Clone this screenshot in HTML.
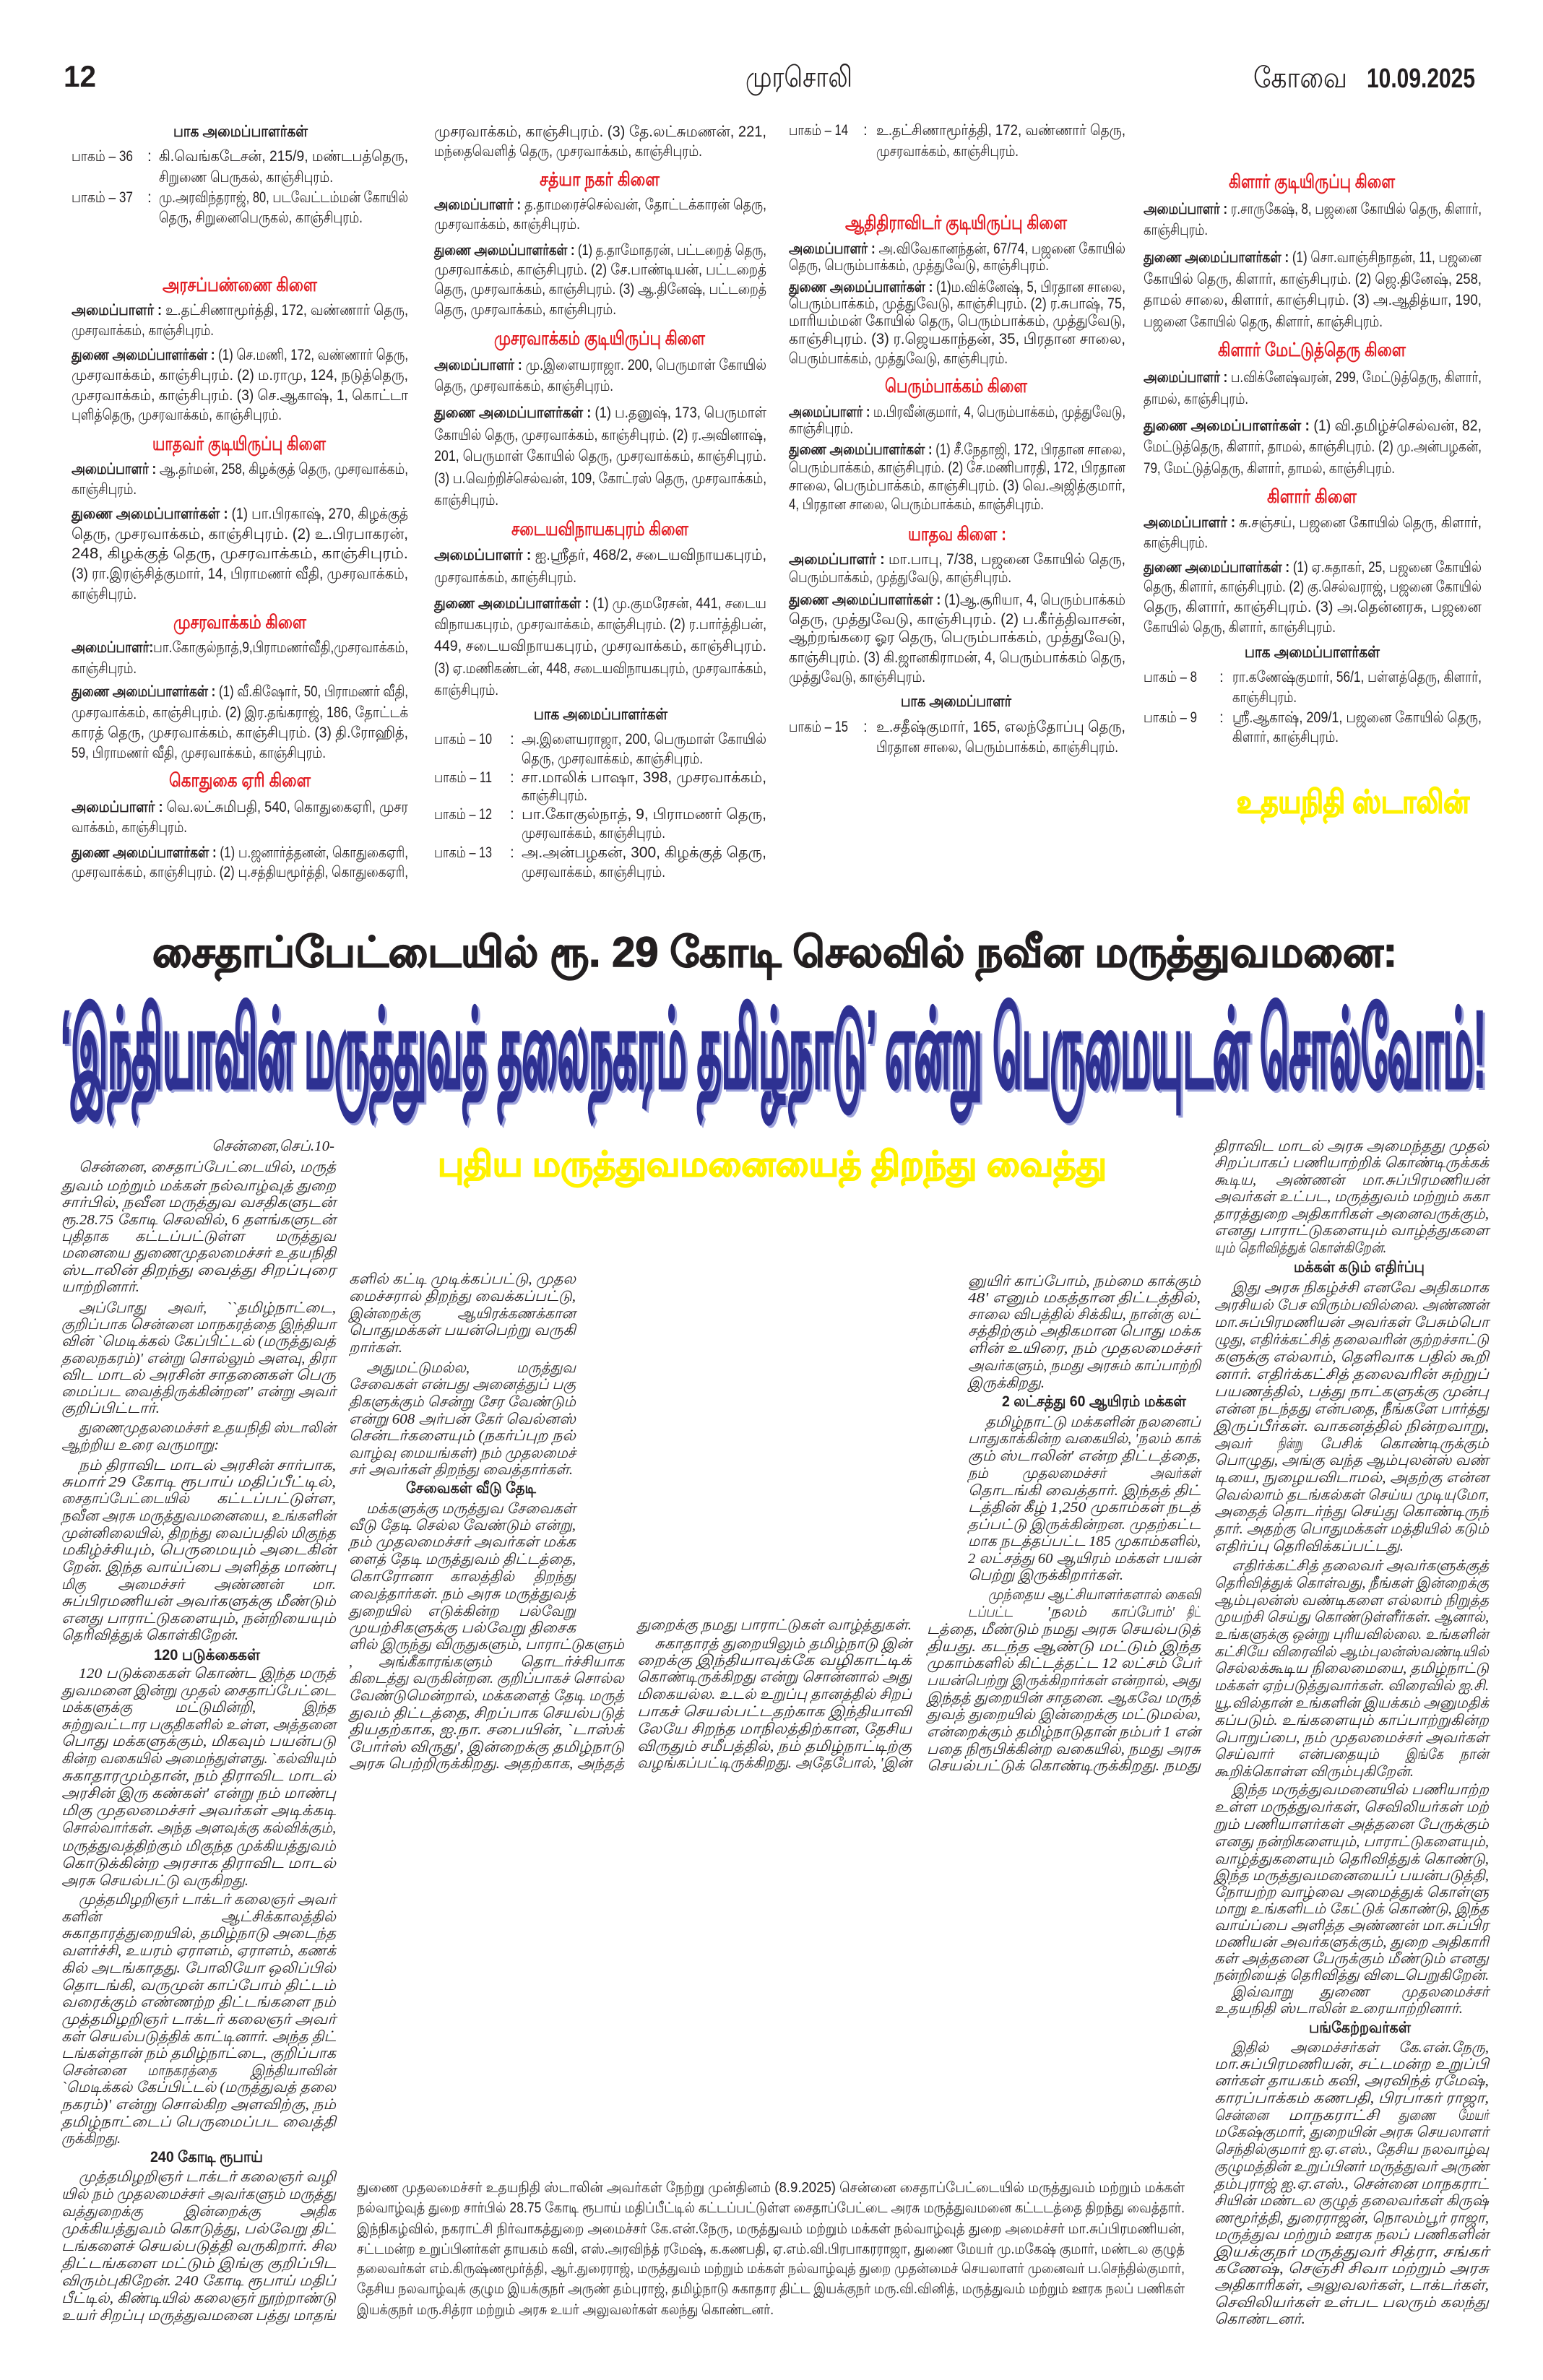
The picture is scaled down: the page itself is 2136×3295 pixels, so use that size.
<!DOCTYPE html>
<html><head><meta charset="utf-8"><style>
html,body{margin:0;padding:0;background:#fff}
svg{display:block}
.t{font:21px "Liberation Sans","DejaVu Sans",sans-serif;fill:#231f20}
.b{font:italic 20px "Liberation Serif","DejaVu Serif",serif;fill:#231f20}
.c{font:20px "Liberation Sans","DejaVu Sans",sans-serif;fill:#231f20}
.r{font:bold 26px "Liberation Sans","DejaVu Sans",sans-serif;fill:#e31e24}
.k{font:bold 22px "Liberation Sans","DejaVu Sans",sans-serif;fill:#231f20}
.bh{font:bold 21px "Liberation Sans","DejaVu Sans",sans-serif;fill:#231f20}
.bo{font-weight:bold}
</style></head><body>
<svg xmlns="http://www.w3.org/2000/svg" width="2136" height="3295" viewBox="0 0 2136 3295">
<rect width="2136" height="3295" fill="#fff"/>
<!-- HEADER -->
<text x="88" y="120" textLength="45" lengthAdjust="spacingAndGlyphs" style="font:bold 42px 'Liberation Sans',sans-serif;fill:#231f20">12</text>
<text x="1032" y="120" textLength="148" lengthAdjust="spacingAndGlyphs" style="font:40px 'Liberation Sans',sans-serif;fill:#231f20">முரசொலி</text>
<text x="1735" y="121" textLength="130" lengthAdjust="spacingAndGlyphs" style="font:40px 'Liberation Sans',sans-serif;fill:#231f20">கோவை</text>
<text x="1892" y="121" textLength="150" lengthAdjust="spacingAndGlyphs" style="font:bold 38px 'Liberation Sans',sans-serif;fill:#231f20">10.09.2025</text>

<!-- TOP COL1 -->
<text class="k" x="240" y="189" textLength="186" lengthAdjust="spacingAndGlyphs">பாக அமைப்பாளர்கள்</text>
<text class="t" x="99" y="223" textLength="85" lengthAdjust="spacingAndGlyphs">பாகம் – 36</text><text class="t" x="204" y="223">:</text>
<text class="t" x="220" y="223" textLength="345" lengthAdjust="spacingAndGlyphs">கி.வெங்கடேசன், 215/9, மண்டபத்தெரு,</text>
<text class="t" x="220" y="252" textLength="241" lengthAdjust="spacingAndGlyphs">சிறுணை பெருகல், காஞ்சிபுரம்.</text>
<text class="t" x="99" y="280" textLength="85" lengthAdjust="spacingAndGlyphs">பாகம் – 37</text><text class="t" x="204" y="280">:</text>
<text class="t" x="220" y="280" textLength="345" lengthAdjust="spacingAndGlyphs">மு.அரவிந்தராஜ், 80, படவேட்டம்மன் கோயில்</text>
<text class="t" x="220" y="308" textLength="282" lengthAdjust="spacingAndGlyphs">தெரு, சிறுனைபெருகல், காஞ்சிபுரம்.</text>
<text class="r" x="225" y="403" textLength="214" lengthAdjust="spacingAndGlyphs">அரசப்பண்ணை கிளை</text>
<text class="t" x="99" y="436" textLength="466" lengthAdjust="spacingAndGlyphs"><tspan class="bo">அமைப்பாளர் :</tspan> உ.தட்சிணாமூர்த்தி, 172, வண்ணார் தெரு,</text>
<text class="t" x="99" y="464" textLength="197" lengthAdjust="spacingAndGlyphs">முசரவாக்கம், காஞ்சிபுரம்.</text>
<text class="t" x="99" y="498" textLength="466" lengthAdjust="spacingAndGlyphs"><tspan class="bo">துணை அமைப்பாளர்கள் :</tspan> (1) செ.மணி, 172, வண்ணார் தெரு,</text>
<text class="t" x="99" y="526" textLength="466" lengthAdjust="spacingAndGlyphs">முசரவாக்கம், காஞ்சிபுரம். (2) ம.ராமு, 124, நடுத்தெரு,</text>
<text class="t" x="99" y="554" textLength="466" lengthAdjust="spacingAndGlyphs">முசரவாக்கம், காஞ்சிபுரம். (3) செ.ஆகாஷ், 1, கொட்டா</text>
<text class="t" x="99" y="581" textLength="291" lengthAdjust="spacingAndGlyphs">புளித்தெரு, முசரவாக்கம், காஞ்சிபுரம்.</text>
<text class="r" x="211" y="623" textLength="240" lengthAdjust="spacingAndGlyphs">யாதவர் குடியிருப்பு கிளை</text>
<text class="t" x="99" y="656" textLength="466" lengthAdjust="spacingAndGlyphs"><tspan class="bo">அமைப்பாளர் :</tspan> ஆ.தர்மன், 258, கிழக்குத் தெரு, முசரவாக்கம்,</text>
<text class="t" x="99" y="684" textLength="90" lengthAdjust="spacingAndGlyphs">காஞ்சிபுரம்.</text>
<text class="t" x="99" y="718" textLength="466" lengthAdjust="spacingAndGlyphs"><tspan class="bo">துணை அமைப்பாளர்கள் :</tspan> (1) பா.பிரகாஷ், 270, கிழக்குத்</text>
<text class="t" x="99" y="746" textLength="466" lengthAdjust="spacingAndGlyphs">தெரு, முசரவாக்கம், காஞ்சிபுரம். (2) உ.பிரபாகரன்,</text>
<text class="t" x="99" y="773" textLength="466" lengthAdjust="spacingAndGlyphs">248, கிழக்குத் தெரு, முசரவாக்கம், காஞ்சிபுரம்.</text>
<text class="t" x="99" y="801" textLength="466" lengthAdjust="spacingAndGlyphs">(3) ரா.இரஞ்சித்குமார், 14, பிராமணர் வீதி, முசரவாக்கம்,</text>
<text class="t" x="99" y="829" textLength="90" lengthAdjust="spacingAndGlyphs">காஞ்சிபுரம்.</text>
<text class="r" x="240" y="870" textLength="184" lengthAdjust="spacingAndGlyphs">முசரவாக்கம் கிளை</text>
<text class="t" x="99" y="903" textLength="466" lengthAdjust="spacingAndGlyphs"><tspan class="bo">அமைப்பாளர்:</tspan>பா.கோகுல்நாத்,9,பிராமணர்வீதி,முசரவாக்கம்,</text>
<text class="t" x="99" y="932" textLength="90" lengthAdjust="spacingAndGlyphs">காஞ்சிபுரம்.</text>
<text class="t" x="99" y="964" textLength="466" lengthAdjust="spacingAndGlyphs"><tspan class="bo">துணை அமைப்பாளர்கள் :</tspan> (1) வீ.கிஷோர், 50, பிராமணர் வீதி,</text>
<text class="t" x="99" y="993" textLength="466" lengthAdjust="spacingAndGlyphs">முசரவாக்கம், காஞ்சிபுரம். (2) இர.தங்கராஜ், 186, தோட்டக்</text>
<text class="t" x="99" y="1021" textLength="466" lengthAdjust="spacingAndGlyphs">காரத் தெரு, முசரவாக்கம், காஞ்சிபுரம். (3) தி.ரோஹித்,</text>
<text class="t" x="99" y="1049" textLength="352" lengthAdjust="spacingAndGlyphs">59, பிராமணர் வீதி, முசரவாக்கம், காஞ்சிபுரம்.</text>
<text class="r" x="234" y="1089" textLength="196" lengthAdjust="spacingAndGlyphs">கொதுகை ஏரி கிளை</text>
<text class="t" x="99" y="1124" textLength="466" lengthAdjust="spacingAndGlyphs"><tspan class="bo">அமைப்பாளர் :</tspan> வெ.லட்சுமிபதி, 540, கொதுகைஏரி, முசர</text>
<text class="t" x="99" y="1152" textLength="160" lengthAdjust="spacingAndGlyphs">வாக்கம், காஞ்சிபுரம்.</text>
<text class="t" x="99" y="1187" textLength="466" lengthAdjust="spacingAndGlyphs"><tspan class="bo">துணை அமைப்பாளர்கள் :</tspan> (1) ப.ஜனார்த்தனன், கொதுகைஏரி,</text>
<text class="t" x="99" y="1214" textLength="466" lengthAdjust="spacingAndGlyphs">முசரவாக்கம், காஞ்சிபுரம். (2) பு.சத்தியமூர்த்தி, கொதுகைஏரி,</text>

<!-- TOP COL2 -->
<text class="t" x="601" y="189" textLength="460" lengthAdjust="spacingAndGlyphs">முசரவாக்கம், காஞ்சிபுரம். (3) தே.லட்சுமணன், 221,</text>
<text class="t" x="601" y="216" textLength="371" lengthAdjust="spacingAndGlyphs">மந்தைவெளித் தெரு, முசரவாக்கம், காஞ்சிபுரம்.</text>
<text class="r" x="747" y="257" textLength="166" lengthAdjust="spacingAndGlyphs">சத்யா நகர் கிளை</text>
<text class="t" x="601" y="290" textLength="460" lengthAdjust="spacingAndGlyphs"><tspan class="bo">அமைப்பாளர் :</tspan> த.தாமரைச்செல்வன், தோட்டக்காரன் தெரு,</text>
<text class="t" x="601" y="317" textLength="202" lengthAdjust="spacingAndGlyphs">முசரவாக்கம், காஞ்சிபுரம்.</text>
<text class="t" x="601" y="353" textLength="460" lengthAdjust="spacingAndGlyphs"><tspan class="bo">துணை அமைப்பாளர்கள் :</tspan> (1) த.தாமோதரன், பட்டறைத் தெரு,</text>
<text class="t" x="601" y="380" textLength="460" lengthAdjust="spacingAndGlyphs">முசரவாக்கம், காஞ்சிபுரம். (2) சே.பாண்டியன், பட்டறைத்</text>
<text class="t" x="601" y="407" textLength="460" lengthAdjust="spacingAndGlyphs">தெரு, முசரவாக்கம், காஞ்சிபுரம். (3) ஆ.தினேஷ், பட்டறைத்</text>
<text class="t" x="601" y="435" textLength="252" lengthAdjust="spacingAndGlyphs">தெரு, முசரவாக்கம், காஞ்சிபுரம்.</text>
<text class="r" x="684" y="477" textLength="292" lengthAdjust="spacingAndGlyphs">முசரவாக்கம் குடியிருப்பு கிளை</text>
<text class="t" x="601" y="512" textLength="460" lengthAdjust="spacingAndGlyphs"><tspan class="bo">அமைப்பாளர் :</tspan> மு.இளையராஜா. 200, பெருமாள் கோயில்</text>
<text class="t" x="601" y="541" textLength="248" lengthAdjust="spacingAndGlyphs">தெரு, முசரவாக்கம், காஞ்சிபுரம்.</text>
<text class="t" x="601" y="578" textLength="460" lengthAdjust="spacingAndGlyphs"><tspan class="bo">துணை அமைப்பாளர்கள் :</tspan> (1) ப.தனுஷ், 173, பெருமாள்</text>
<text class="t" x="601" y="609" textLength="460" lengthAdjust="spacingAndGlyphs">கோயில் தெரு, முசரவாக்கம், காஞ்சிபுரம். (2) ர.அவினாஷ்,</text>
<text class="t" x="601" y="638" textLength="460" lengthAdjust="spacingAndGlyphs">201, பெருமாள் கோயில் தெரு, முசரவாக்கம், காஞ்சிபுரம்.</text>
<text class="t" x="601" y="669" textLength="460" lengthAdjust="spacingAndGlyphs">(3) ப.வெற்றிச்செல்வன், 109, கோட்ரஸ் தெரு, முசரவாக்கம்,</text>
<text class="t" x="601" y="699" textLength="89" lengthAdjust="spacingAndGlyphs">காஞ்சிபுரம்.</text>
<text class="r" x="708" y="741" textLength="245" lengthAdjust="spacingAndGlyphs">சடையவிநாயகபுரம் கிளை</text>
<text class="t" x="601" y="775" textLength="460" lengthAdjust="spacingAndGlyphs"><tspan class="bo">அமைப்பாளர் :</tspan> ஐ.ஸ்ரீதர், 468/2, சடையவிநாயகபுரம்,</text>
<text class="t" x="601" y="806" textLength="197" lengthAdjust="spacingAndGlyphs">முசரவாக்கம், காஞ்சிபுரம்.</text>
<text class="t" x="601" y="842" textLength="460" lengthAdjust="spacingAndGlyphs"><tspan class="bo">துணை அமைப்பாளர்கள் :</tspan> (1) மு.குமரேசன், 441, சடைய</text>
<text class="t" x="601" y="871" textLength="460" lengthAdjust="spacingAndGlyphs">விநாயகபுரம், முசரவாக்கம், காஞ்சிபுரம். (2) ர.பார்த்திபன்,</text>
<text class="t" x="601" y="901" textLength="460" lengthAdjust="spacingAndGlyphs">449, சடையவிநாயகபுரம், முசரவாக்கம், காஞ்சிபுரம்.</text>
<text class="t" x="601" y="932" textLength="460" lengthAdjust="spacingAndGlyphs">(3) ஏ.மணிகண்டன், 448, சடையவிநாயகபுரம், முசரவாக்கம்,</text>
<text class="t" x="601" y="962" textLength="89" lengthAdjust="spacingAndGlyphs">காஞ்சிபுரம்.</text>
<text class="k" x="739" y="996" textLength="185" lengthAdjust="spacingAndGlyphs">பாக அமைப்பாளர்கள்</text>
<text class="t" x="601" y="1030" textLength="80" lengthAdjust="spacingAndGlyphs">பாகம் – 10</text><text class="t" x="706" y="1030">:</text>
<text class="t" x="722" y="1030" textLength="339" lengthAdjust="spacingAndGlyphs">அ.இளையராஜா, 200, பெருமாள் கோயில்</text>
<text class="t" x="722" y="1057" textLength="251" lengthAdjust="spacingAndGlyphs">தெரு, முசரவாக்கம், காஞ்சிபுரம்.</text>
<text class="t" x="601" y="1083" textLength="80" lengthAdjust="spacingAndGlyphs">பாகம் – 11</text><text class="t" x="706" y="1083">:</text>
<text class="t" x="722" y="1083" textLength="339" lengthAdjust="spacingAndGlyphs">சா.மாலிக் பாஷா, 398, முசரவாக்கம்,</text>
<text class="t" x="722" y="1108" textLength="91" lengthAdjust="spacingAndGlyphs">காஞ்சிபுரம்.</text>
<text class="t" x="601" y="1134" textLength="80" lengthAdjust="spacingAndGlyphs">பாகம் – 12</text><text class="t" x="706" y="1134">:</text>
<text class="t" x="722" y="1134" textLength="339" lengthAdjust="spacingAndGlyphs">பா.கோகுல்நாத், 9, பிராமணர் தெரு,</text>
<text class="t" x="722" y="1160" textLength="199" lengthAdjust="spacingAndGlyphs">முசரவாக்கம், காஞ்சிபுரம்.</text>
<text class="t" x="601" y="1187" textLength="80" lengthAdjust="spacingAndGlyphs">பாகம் – 13</text><text class="t" x="706" y="1187">:</text>
<text class="t" x="722" y="1187" textLength="339" lengthAdjust="spacingAndGlyphs">அ.அன்பழகன், 300, கிழக்குத் தெரு,</text>
<text class="t" x="722" y="1214" textLength="199" lengthAdjust="spacingAndGlyphs">முசரவாக்கம், காஞ்சிபுரம்.</text>

<!-- TOP COL3 -->
<text class="t" x="1092" y="187" textLength="82" lengthAdjust="spacingAndGlyphs">பாகம் – 14</text><text class="t" x="1195" y="187">:</text>
<text class="t" x="1213" y="187" textLength="345" lengthAdjust="spacingAndGlyphs">உ.தட்சிணாமூர்த்தி, 172, வண்ணார் தெரு,</text>
<text class="t" x="1213" y="216" textLength="197" lengthAdjust="spacingAndGlyphs">முசரவாக்கம், காஞ்சிபுரம்.</text>
<text class="r" x="1170" y="317" textLength="307" lengthAdjust="spacingAndGlyphs">ஆதிதிராவிடர் குடியிருப்பு கிளை</text>
<text class="t" x="1092" y="351" textLength="466" lengthAdjust="spacingAndGlyphs"><tspan class="bo">அமைப்பாளர் :</tspan> அ.விவேகானந்தன், 67/74, பஜனை கோயில்</text>
<text class="t" x="1092" y="374" textLength="360" lengthAdjust="spacingAndGlyphs">தெரு, பெரும்பாக்கம், முத்துவேடு, காஞ்சிபுரம்.</text>
<text class="t" x="1092" y="404" textLength="466" lengthAdjust="spacingAndGlyphs"><tspan class="bo">துணை அமைப்பாளர்கள் :</tspan> (1)ம.விக்னேஷ், 5, பிரதான சாலை,</text>
<text class="t" x="1092" y="427" textLength="466" lengthAdjust="spacingAndGlyphs">பெரும்பாக்கம், முத்துவேடு, காஞ்சிபுரம். (2) ர.சுபாஷ், 75,</text>
<text class="t" x="1092" y="451" textLength="466" lengthAdjust="spacingAndGlyphs">மாரியம்மன் கோயில் தெரு, பெரும்பாக்கம், முத்துவேடு,</text>
<text class="t" x="1092" y="476" textLength="466" lengthAdjust="spacingAndGlyphs">காஞ்சிபுரம். (3) ர.ஜெயகாந்தன், 35, பிரதான சாலை,</text>
<text class="t" x="1092" y="503" textLength="303" lengthAdjust="spacingAndGlyphs">பெரும்பாக்கம், முத்துவேடு, காஞ்சிபுரம்.</text>
<text class="r" x="1225" y="543" textLength="197" lengthAdjust="spacingAndGlyphs">பெரும்பாக்கம் கிளை</text>
<text class="t" x="1092" y="577" textLength="466" lengthAdjust="spacingAndGlyphs"><tspan class="bo">அமைப்பாளர் :</tspan> ம.பிரவீன்குமார், 4, பெரும்பாக்கம், முத்துவேடு,</text>
<text class="t" x="1092" y="600" textLength="89" lengthAdjust="spacingAndGlyphs">காஞ்சிபுரம்.</text>
<text class="t" x="1092" y="629" textLength="466" lengthAdjust="spacingAndGlyphs"><tspan class="bo">துணை அமைப்பாளர்கள் :</tspan> (1) சீ.நேதாஜி, 172, பிரதான சாலை,</text>
<text class="t" x="1092" y="654" textLength="466" lengthAdjust="spacingAndGlyphs">பெரும்பாக்கம், காஞ்சிபுரம். (2) சே.மணிபாரதி, 172, பிரதான</text>
<text class="t" x="1092" y="679" textLength="466" lengthAdjust="spacingAndGlyphs">சாலை, பெரும்பாக்கம், காஞ்சிபுரம். (3) வெ.அஜித்குமார்,</text>
<text class="t" x="1092" y="705" textLength="353" lengthAdjust="spacingAndGlyphs">4, பிரதான சாலை, பெரும்பாக்கம், காஞ்சிபுரம்.</text>
<text class="r" x="1257" y="748" textLength="136" lengthAdjust="spacingAndGlyphs">யாதவ கிளை :</text>
<text class="t" x="1092" y="781" textLength="466" lengthAdjust="spacingAndGlyphs"><tspan class="bo">அமைப்பாளர் :</tspan> மா.பாபு, 7/38, பஜனை கோயில் தெரு,</text>
<text class="t" x="1092" y="806" textLength="308" lengthAdjust="spacingAndGlyphs">பெரும்பாக்கம், முத்துவேடு, காஞ்சிபுரம்.</text>
<text class="t" x="1092" y="837" textLength="466" lengthAdjust="spacingAndGlyphs"><tspan class="bo">துணை அமைப்பாளர்கள் :</tspan> (1)ஆ.சூரியா, 4, பெரும்பாக்கம்</text>
<text class="t" x="1092" y="864" textLength="466" lengthAdjust="spacingAndGlyphs">தெரு, முத்துவேடு, காஞ்சிபுரம். (2) ப.கீர்த்திவாசன்,</text>
<text class="t" x="1092" y="889" textLength="466" lengthAdjust="spacingAndGlyphs">ஆற்றங்கரை ஓர தெரு, பெரும்பாக்கம், முத்துவேடு,</text>
<text class="t" x="1092" y="917" textLength="466" lengthAdjust="spacingAndGlyphs">காஞ்சிபுரம். (3) கி.ஜானகிராமன், 4, பெரும்பாக்கம் தெரு,</text>
<text class="t" x="1092" y="944" textLength="189" lengthAdjust="spacingAndGlyphs">முத்துவேடு, காஞ்சிபுரம்.</text>
<text class="k" x="1247" y="978" textLength="153" lengthAdjust="spacingAndGlyphs">பாக அமைப்பாளர்</text>
<text class="t" x="1092" y="1013" textLength="82" lengthAdjust="spacingAndGlyphs">பாகம் – 15</text><text class="t" x="1195" y="1013">:</text>
<text class="t" x="1213" y="1013" textLength="345" lengthAdjust="spacingAndGlyphs">உ.சதீஷ்குமார், 165, எலந்தோப்பு தெரு,</text>
<text class="t" x="1213" y="1041" textLength="335" lengthAdjust="spacingAndGlyphs">பிரதான சாலை, பெரும்பாக்கம், காஞ்சிபுரம்.</text>

<!-- TOP COL4 -->
<text class="r" x="1701" y="260" textLength="230" lengthAdjust="spacingAndGlyphs">கிளார் குடியிருப்பு கிளை</text>
<text class="t" x="1583" y="296" textLength="468" lengthAdjust="spacingAndGlyphs"><tspan class="bo">அமைப்பாளர் :</tspan> ர.சாருகேஷ், 8, பஜனை கோயில் தெரு, கிளார்,</text>
<text class="t" x="1583" y="325" textLength="89" lengthAdjust="spacingAndGlyphs">காஞ்சிபுரம்.</text>
<text class="t" x="1583" y="363" textLength="468" lengthAdjust="spacingAndGlyphs"><tspan class="bo">துணை அமைப்பாளர்கள் :</tspan> (1) சொ.வாஞ்சிநாதன், 11, பஜனை</text>
<text class="t" x="1583" y="393" textLength="468" lengthAdjust="spacingAndGlyphs">கோயில் தெரு, கிளார், காஞ்சிபுரம். (2) ஜெ.தினேஷ், 258,</text>
<text class="t" x="1583" y="422" textLength="468" lengthAdjust="spacingAndGlyphs">தாமல் சாலை, கிளார், காஞ்சிபுரம். (3) அ.ஆதித்யா, 190,</text>
<text class="t" x="1583" y="452" textLength="331" lengthAdjust="spacingAndGlyphs">பஜனை கோயில் தெரு, கிளார், காஞ்சிபுரம்.</text>
<text class="r" x="1686" y="493" textLength="260" lengthAdjust="spacingAndGlyphs">கிளார் மேட்டுத்தெரு கிளை</text>
<text class="t" x="1583" y="529" textLength="468" lengthAdjust="spacingAndGlyphs"><tspan class="bo">அமைப்பாளர் :</tspan> ப.விக்னேஷ்வரன், 299, மேட்டுத்தெரு, கிளார்,</text>
<text class="t" x="1583" y="559" textLength="145" lengthAdjust="spacingAndGlyphs">தாமல், காஞ்சிபுரம்.</text>
<text class="t" x="1583" y="596" textLength="468" lengthAdjust="spacingAndGlyphs"><tspan class="bo">துணை அமைப்பாளர்கள் :</tspan> (1) வி.தமிழ்ச்செல்வன், 82,</text>
<text class="t" x="1583" y="625" textLength="468" lengthAdjust="spacingAndGlyphs">மேட்டுத்தெரு, கிளார், தாமல், காஞ்சிபுரம். (2) மு.அன்பழகன்,</text>
<text class="t" x="1583" y="655" textLength="348" lengthAdjust="spacingAndGlyphs">79, மேட்டுத்தெரு, கிளார், தாமல், காஞ்சிபுரம்.</text>
<text class="r" x="1754" y="696" textLength="124" lengthAdjust="spacingAndGlyphs">கிளார் கிளை</text>
<text class="t" x="1583" y="730" textLength="468" lengthAdjust="spacingAndGlyphs"><tspan class="bo">அமைப்பாளர் :</tspan> சு.சஞ்சய், பஜனை கோயில் தெரு, கிளார்,</text>
<text class="t" x="1583" y="758" textLength="89" lengthAdjust="spacingAndGlyphs">காஞ்சிபுரம்.</text>
<text class="t" x="1583" y="792" textLength="468" lengthAdjust="spacingAndGlyphs"><tspan class="bo">துணை அமைப்பாளர்கள் :</tspan> (1) ஏ.சுதாகர், 25, பஜனை கோயில்</text>
<text class="t" x="1583" y="819" textLength="468" lengthAdjust="spacingAndGlyphs">தெரு, கிளார், காஞ்சிபுரம். (2) கு.செல்வராஜ், பஜனை கோயில்</text>
<text class="t" x="1583" y="847" textLength="468" lengthAdjust="spacingAndGlyphs">தெரு, கிளார், காஞ்சிபுரம். (3) அ.தென்னரசு, பஜனை</text>
<text class="t" x="1583" y="875" textLength="266" lengthAdjust="spacingAndGlyphs">கோயில் தெரு, கிளார், காஞ்சிபுரம்.</text>
<text class="k" x="1723" y="910" textLength="187" lengthAdjust="spacingAndGlyphs">பாக அமைப்பாளர்கள்</text>
<text class="t" x="1583" y="944" textLength="74" lengthAdjust="spacingAndGlyphs">பாகம் – 8</text><text class="t" x="1688" y="944">:</text>
<text class="t" x="1706" y="944" textLength="345" lengthAdjust="spacingAndGlyphs">ரா.கணேஷ்குமார், 56/1, பள்ளத்தெரு, கிளார்,</text>
<text class="t" x="1706" y="972" textLength="89" lengthAdjust="spacingAndGlyphs">காஞ்சிபுரம்.</text>
<text class="t" x="1583" y="1000" textLength="74" lengthAdjust="spacingAndGlyphs">பாகம் – 9</text><text class="t" x="1688" y="1000">:</text>
<text class="t" x="1706" y="1000" textLength="345" lengthAdjust="spacingAndGlyphs">ஸ்ரீ.ஆகாஷ், 209/1, பஜனை கோயில் தெரு,</text>
<text class="t" x="1706" y="1027" textLength="147" lengthAdjust="spacingAndGlyphs">கிளார், காஞ்சிபுரம்.</text>
<text x="1712" y="1125" textLength="322" lengthAdjust="spacingAndGlyphs" style="font:bold 44px 'Liberation Sans',sans-serif;fill:#fff200;stroke:#fff200;stroke-width:1.5">உதயநிதி ஸ்டாலின்</text>

<!-- HEADLINES -->
<text x="211" y="1338" textLength="1723" lengthAdjust="spacingAndGlyphs" style="font:bold 58px 'Liberation Sans',sans-serif;fill:#231f20;stroke:#231f20;stroke-width:1.5">சைதாப்பேட்டையில் ரூ. 29 கோடி செலவில் நவீன மருத்துவமனை:</text>
<text x="87" y="1507" textLength="1973" lengthAdjust="spacingAndGlyphs" style="font:bold 150px 'Liberation Sans',sans-serif;fill:#9ea3dc;stroke:#9ea3dc;stroke-width:4">‘இந்தியாவின் மருத்துவத் தலைநகரம் தமிழ்நாடு’ என்று பெருமையுடன் சொல்வோம்!</text>
<text x="84" y="1504" textLength="1973" lengthAdjust="spacingAndGlyphs" style="font:bold 150px 'Liberation Sans',sans-serif;fill:#2e3192;stroke:#2e3192;stroke-width:4">‘இந்தியாவின் மருத்துவத் தலைநகரம் தமிழ்நாடு’ என்று பெருமையுடன் சொல்வோம்!</text>
<text x="606" y="1628" textLength="926" lengthAdjust="spacingAndGlyphs" style="font:bold 48px 'Liberation Sans',sans-serif;fill:#fff200;stroke:#fff200;stroke-width:1.5">புதிய மருத்துவமனையைத் திறந்து வைத்து</text>

<!-- BODY COL1 -->
<text class="b" x="293" y="1593" textLength="170" lengthAdjust="spacingAndGlyphs">சென்னை,செப்.10-</text>
<text class="b" x="109" y="1622" textLength="356" lengthAdjust="spacingAndGlyphs">சென்னை, சைதாப்பேட்டையில், மருத்</text>
<text class="b" x="85" y="1648" textLength="380" lengthAdjust="spacingAndGlyphs">துவம் மற்றும் மக்கள் நல்வாழ்வுத் துறை</text>
<text class="b" x="85" y="1671" textLength="380" lengthAdjust="spacingAndGlyphs">சார்பில், நவீன மருத்துவ வசதிகளுடன்</text>
<text class="b" x="85" y="1695" textLength="380" lengthAdjust="spacingAndGlyphs">ரூ.28.75 கோடி செலவில், 6 தளங்களுடன்</text>
<text class="b" x="85" y="1718" textLength="65" lengthAdjust="spacingAndGlyphs">புதிதாக</text><text class="b" x="187" y="1718" textLength="151" lengthAdjust="spacingAndGlyphs">கட்டப்பட்டுள்ள</text><text class="b" x="381" y="1718" textLength="84" lengthAdjust="spacingAndGlyphs">மருத்துவ</text>
<text class="b" x="85" y="1741" textLength="380" lengthAdjust="spacingAndGlyphs">மனையை துணைமுதலமைச்சர் உதயநிதி</text>
<text class="b" x="85" y="1765" textLength="380" lengthAdjust="spacingAndGlyphs">ஸ்டாலின் திறந்து வைத்து சிறப்புரை</text>
<text class="b" x="85" y="1788" textLength="108" lengthAdjust="spacingAndGlyphs">யாற்றினார்.</text>
<text class="b" x="109" y="1817" textLength="93" lengthAdjust="spacingAndGlyphs">அப்போது</text><text class="b" x="232" y="1817" textLength="54" lengthAdjust="spacingAndGlyphs">அவர்,</text><text class="b" x="313" y="1817" textLength="152" lengthAdjust="spacingAndGlyphs">``தமிழ்நாட்டை,</text>
<text class="b" x="85" y="1840" textLength="380" lengthAdjust="spacingAndGlyphs">குறிப்பாக சென்னை மாநகரத்தை இந்தியா</text>
<text class="b" x="85" y="1863" textLength="380" lengthAdjust="spacingAndGlyphs">வின் `மெடிக்கல் கேப்பிட்டல் (மருத்துவத்</text>
<text class="b" x="85" y="1887" textLength="380" lengthAdjust="spacingAndGlyphs">தலைநகரம்)' என்று சொல்லும் அளவு, திரா</text>
<text class="b" x="85" y="1910" textLength="380" lengthAdjust="spacingAndGlyphs">விட மாடல் அரசின் சாதனைகள் பெரு</text>
<text class="b" x="85" y="1933" textLength="380" lengthAdjust="spacingAndGlyphs">மைப்பட வைத்திருக்கின்றன'' என்று அவர்</text>
<text class="b" x="85" y="1956" textLength="136" lengthAdjust="spacingAndGlyphs">குறிப்பிட்டார்.</text>
<text class="b" x="109" y="1983" textLength="356" lengthAdjust="spacingAndGlyphs">துணைமுதலமைச்சர் உதயநிதி ஸ்டாலின்</text>
<text class="b" x="85" y="2007" textLength="218" lengthAdjust="spacingAndGlyphs">ஆற்றிய உரை வருமாறு:</text>
<text class="b" x="109" y="2035" textLength="356" lengthAdjust="spacingAndGlyphs">நம் திராவிட மாடல் அரசின் சார்பாக,</text>
<text class="b" x="85" y="2058" textLength="380" lengthAdjust="spacingAndGlyphs">சுமார் 29 கோடி ரூபாய் மதிப்பீட்டில்,</text>
<text class="b" x="85" y="2081" textLength="177" lengthAdjust="spacingAndGlyphs">சைதாப்பேட்டையில்</text><text class="b" x="300" y="2081" textLength="165" lengthAdjust="spacingAndGlyphs">கட்டப்பட்டுள்ள,</text>
<text class="b" x="85" y="2105" textLength="380" lengthAdjust="spacingAndGlyphs">நவீன அரசு மருத்துவமனையை, உங்களின்</text>
<text class="b" x="85" y="2129" textLength="380" lengthAdjust="spacingAndGlyphs">முன்னிலையில், திறந்து வைப்பதில் மிகுந்த</text>
<text class="b" x="85" y="2152" textLength="380" lengthAdjust="spacingAndGlyphs">மகிழ்ச்சியும், பெருமையும் அடைகின்</text>
<text class="b" x="85" y="2176" textLength="380" lengthAdjust="spacingAndGlyphs">றேன். இந்த வாய்ப்பை அளித்த மாண்பு</text>
<text class="b" x="85" y="2200" textLength="34" lengthAdjust="spacingAndGlyphs">மிகு</text><text class="b" x="163" y="2200" textLength="92" lengthAdjust="spacingAndGlyphs">அமைச்சர்</text><text class="b" x="296" y="2200" textLength="96" lengthAdjust="spacingAndGlyphs">அண்ணன்</text><text class="b" x="432" y="2200" textLength="33" lengthAdjust="spacingAndGlyphs">மா.</text>
<text class="b" x="85" y="2223" textLength="380" lengthAdjust="spacingAndGlyphs">சுப்பிரமணியன் அவர்களுக்கு மீண்டும்</text>
<text class="b" x="85" y="2247" textLength="380" lengthAdjust="spacingAndGlyphs">எனது பாராட்டுகளையும், நன்றியையும்</text>
<text class="b" x="85" y="2270" textLength="245" lengthAdjust="spacingAndGlyphs">தெரிவித்துக் கொள்கிறேன்.</text>
<text class="bh" x="213" y="2298" textLength="147" lengthAdjust="spacingAndGlyphs">120 படுக்கைகள்</text>
<text class="b" x="109" y="2323" textLength="356" lengthAdjust="spacingAndGlyphs">120 படுக்கைகள் கொண்ட இந்த மருத்</text>
<text class="b" x="85" y="2347" textLength="380" lengthAdjust="spacingAndGlyphs">துவமனை இன்று முதல் சைதாப்பேட்டை</text>
<text class="b" x="85" y="2370" textLength="98" lengthAdjust="spacingAndGlyphs">மக்களுக்கு</text><text class="b" x="242" y="2370" textLength="112" lengthAdjust="spacingAndGlyphs">மட்டுமின்றி,</text><text class="b" x="419" y="2370" textLength="46" lengthAdjust="spacingAndGlyphs">இந்த</text>
<text class="b" x="85" y="2394" textLength="380" lengthAdjust="spacingAndGlyphs">சுற்றுவட்டார பகுதிகளில் உள்ள, அத்தனை</text>
<text class="b" x="85" y="2417" textLength="380" lengthAdjust="spacingAndGlyphs">பொது மக்களுக்கும், மிகவும் பயன்படு</text>
<text class="b" x="85" y="2441" textLength="380" lengthAdjust="spacingAndGlyphs">கின்ற வகையில் அமைந்துள்ளது. `கல்வியும்</text>
<text class="b" x="85" y="2465" textLength="380" lengthAdjust="spacingAndGlyphs">சுகாதாரமும்தான், நம் திராவிட மாடல்</text>
<text class="b" x="85" y="2489" textLength="380" lengthAdjust="spacingAndGlyphs">அரசின் இரு கண்கள்' என்று நம் மாண்பு</text>
<text class="b" x="85" y="2513" textLength="380" lengthAdjust="spacingAndGlyphs">மிகு முதலமைச்சர் அவர்கள் அடிக்கடி</text>
<text class="b" x="85" y="2537" textLength="380" lengthAdjust="spacingAndGlyphs">சொல்வார்கள். அந்த அளவுக்கு கல்விக்கும்,</text>
<text class="b" x="85" y="2562" textLength="380" lengthAdjust="spacingAndGlyphs">மருத்துவத்திற்கும் மிகுந்த முக்கியத்துவம்</text>
<text class="b" x="85" y="2586" textLength="380" lengthAdjust="spacingAndGlyphs">கொடுக்கின்ற அரசாக திராவிட மாடல்</text>
<text class="b" x="85" y="2610" textLength="259" lengthAdjust="spacingAndGlyphs">அரசு செயல்பட்டு வருகிறது.</text>
<text class="b" x="109" y="2636" textLength="356" lengthAdjust="spacingAndGlyphs">முத்தமிழறிஞர் டாக்டர் கலைஞர் அவர்</text>
<text class="b" x="85" y="2660" textLength="55" lengthAdjust="spacingAndGlyphs">களின்</text><text class="b" x="306" y="2660" textLength="159" lengthAdjust="spacingAndGlyphs">ஆட்சிக்காலத்தில்</text>
<text class="b" x="85" y="2683" textLength="380" lengthAdjust="spacingAndGlyphs">சுகாதாரத்துறையில், தமிழ்நாடு அடைந்த</text>
<text class="b" x="85" y="2707" textLength="380" lengthAdjust="spacingAndGlyphs">வளர்ச்சி, உயரம் ஏராளம், ஏராளம், கணக்</text>
<text class="b" x="85" y="2731" textLength="380" lengthAdjust="spacingAndGlyphs">கில் அடங்காதது. போலியோ ஒலிப்பில்</text>
<text class="b" x="85" y="2755" textLength="380" lengthAdjust="spacingAndGlyphs">தொடங்கி, வருமுன் காப்போம் திட்டம்</text>
<text class="b" x="85" y="2778" textLength="380" lengthAdjust="spacingAndGlyphs">வரைக்கும் எண்ணற்ற திட்டங்களை நம்</text>
<text class="b" x="85" y="2802" textLength="380" lengthAdjust="spacingAndGlyphs">முத்தமிழறிஞர் டாக்டர் கலைஞர் அவர்</text>
<text class="b" x="85" y="2826" textLength="380" lengthAdjust="spacingAndGlyphs">கள் செயல்படுத்திக் காட்டினார். அந்த திட்</text>
<text class="b" x="85" y="2849" textLength="380" lengthAdjust="spacingAndGlyphs">டங்கள்தான் நம் தமிழ்நாட்டை, குறிப்பாக</text>
<text class="b" x="85" y="2873" textLength="89" lengthAdjust="spacingAndGlyphs">சென்னை</text><text class="b" x="204" y="2873" textLength="96" lengthAdjust="spacingAndGlyphs">மாநகரத்தை</text><text class="b" x="347" y="2873" textLength="118" lengthAdjust="spacingAndGlyphs">இந்தியாவின்</text>
<text class="b" x="85" y="2896" textLength="380" lengthAdjust="spacingAndGlyphs">`மெடிக்கல் கேப்பிட்டல் (மருத்துவத் தலை</text>
<text class="b" x="85" y="2920" textLength="380" lengthAdjust="spacingAndGlyphs">நகரம்)' என்று சொல்கிற அளவிற்கு, நம்</text>
<text class="b" x="85" y="2944" textLength="380" lengthAdjust="spacingAndGlyphs">தமிழ்நாட்டைப் பெருமைப்பட வைத்தி</text>
<text class="b" x="85" y="2967" textLength="82" lengthAdjust="spacingAndGlyphs">ருக்கிறது.</text>
<text class="bh" x="208" y="2993" textLength="156" lengthAdjust="spacingAndGlyphs">240 கோடி ரூபாய்</text>
<text class="b" x="109" y="3020" textLength="356" lengthAdjust="spacingAndGlyphs">முத்தமிழறிஞர் டாக்டர் கலைஞர் வழி</text>
<text class="b" x="85" y="3044" textLength="380" lengthAdjust="spacingAndGlyphs">யில் நம் முதலமைச்சர் அவர்களும் மருத்து</text>
<text class="b" x="85" y="3068" textLength="113" lengthAdjust="spacingAndGlyphs">வத்துறைக்கு</text><text class="b" x="255" y="3068" textLength="106" lengthAdjust="spacingAndGlyphs">இன்றைக்கு</text><text class="b" x="415" y="3068" textLength="50" lengthAdjust="spacingAndGlyphs">அதிக</text>
<text class="b" x="85" y="3092" textLength="380" lengthAdjust="spacingAndGlyphs">முக்கியத்துவம் கொடுத்து, பல்வேறு திட்</text>
<text class="b" x="85" y="3116" textLength="380" lengthAdjust="spacingAndGlyphs">டங்களைச் செயல்படுத்தி வருகிறார். சில</text>
<text class="b" x="85" y="3140" textLength="380" lengthAdjust="spacingAndGlyphs">திட்டங்களை மட்டும் இங்கு குறிப்பிட</text>
<text class="b" x="85" y="3164" textLength="380" lengthAdjust="spacingAndGlyphs">விரும்புகிறேன். 240 கோடி ரூபாய் மதிப்</text>
<text class="b" x="85" y="3188" textLength="380" lengthAdjust="spacingAndGlyphs">பீட்டில், கிண்டியில் கலைஞர் நூற்றாண்டு</text>
<text class="b" x="85" y="3212" textLength="380" lengthAdjust="spacingAndGlyphs">உயர் சிறப்பு மருத்துவமனை பத்து மாதங்</text>

<!-- BODY COL2 -->
<text class="b" x="483" y="1777" textLength="314" lengthAdjust="spacingAndGlyphs">களில் கட்டி முடிக்கப்பட்டு, முதல</text>
<text class="b" x="483" y="1801" textLength="314" lengthAdjust="spacingAndGlyphs">மைச்சரால் திறந்து வைக்கப்பட்டு,</text>
<text class="b" x="483" y="1825" textLength="99" lengthAdjust="spacingAndGlyphs">இன்றைக்கு</text><text class="b" x="633" y="1825" textLength="164" lengthAdjust="spacingAndGlyphs">ஆயிரக்கணக்கான</text>
<text class="b" x="483" y="1848" textLength="314" lengthAdjust="spacingAndGlyphs">பொதுமக்கள் பயன்பெற்று வருகி</text>
<text class="b" x="483" y="1872" textLength="74" lengthAdjust="spacingAndGlyphs">றார்கள்.</text>
<text class="b" x="507" y="1900" textLength="143" lengthAdjust="spacingAndGlyphs">அதுமட்டுமல்ல,</text><text class="b" x="715" y="1900" textLength="82" lengthAdjust="spacingAndGlyphs">மருத்துவ</text>
<text class="b" x="483" y="1923" textLength="314" lengthAdjust="spacingAndGlyphs">சேவைகள் என்பது அனைத்துப் பகு</text>
<text class="b" x="483" y="1947" textLength="314" lengthAdjust="spacingAndGlyphs">திகளுக்கும் சென்று சேர வேண்டும்</text>
<text class="b" x="483" y="1971" textLength="314" lengthAdjust="spacingAndGlyphs">என்று 608 அர்பன் கேர் வெல்னஸ்</text>
<text class="b" x="483" y="1994" textLength="314" lengthAdjust="spacingAndGlyphs">சென்டர்களையும் (நகர்ப்புற நல்</text>
<text class="b" x="483" y="2018" textLength="314" lengthAdjust="spacingAndGlyphs">வாழ்வு மையங்கள்) நம் முதலமைச்</text>
<text class="b" x="483" y="2041" textLength="310" lengthAdjust="spacingAndGlyphs">சர் அவர்கள் திறந்து வைத்தார்கள்.</text>
<text class="bh" x="562" y="2067" textLength="180" lengthAdjust="spacingAndGlyphs">சேவைகள் வீடு தேடி</text>
<text class="b" x="507" y="2095" textLength="290" lengthAdjust="spacingAndGlyphs">மக்களுக்கு மருத்துவ சேவைகள்</text>
<text class="b" x="483" y="2118" textLength="314" lengthAdjust="spacingAndGlyphs">வீடு தேடி செல்ல வேண்டும் என்று,</text>
<text class="b" x="483" y="2141" textLength="314" lengthAdjust="spacingAndGlyphs">நம் முதலமைச்சர் அவர்கள் மக்க</text>
<text class="b" x="483" y="2165" textLength="314" lengthAdjust="spacingAndGlyphs">ளைத் தேடி மருத்துவம் திட்டத்தை,</text>
<text class="b" x="483" y="2189" textLength="115" lengthAdjust="spacingAndGlyphs">கொரோனா</text><text class="b" x="623" y="2189" textLength="89" lengthAdjust="spacingAndGlyphs">காலத்தில்</text><text class="b" x="739" y="2189" textLength="58" lengthAdjust="spacingAndGlyphs">திறந்து</text>
<text class="b" x="483" y="2213" textLength="314" lengthAdjust="spacingAndGlyphs">வைத்தார்கள். நம் அரசு மருத்துவத்</text>
<text class="b" x="483" y="2237" textLength="86" lengthAdjust="spacingAndGlyphs">துறையில்</text><text class="b" x="592" y="2237" textLength="99" lengthAdjust="spacingAndGlyphs">எடுக்கின்ற</text><text class="b" x="718" y="2237" textLength="79" lengthAdjust="spacingAndGlyphs">பல்வேறு</text>
<text class="b" x="483" y="2260" textLength="314" lengthAdjust="spacingAndGlyphs">முயற்சிகளுக்கு பல்வேறு திசைக</text>
<text class="b" x="483" y="2283" textLength="381" lengthAdjust="spacingAndGlyphs">ளில் இருந்து விருதுகளும், பாராட்டுகளும்</text>
<text class="b" x="483" y="2307">,</text><text class="b" x="524" y="2307" textLength="157" lengthAdjust="spacingAndGlyphs">அங்கீகாரங்களும்</text><text class="b" x="720" y="2307" textLength="144" lengthAdjust="spacingAndGlyphs">தொடர்ச்சியாக</text>
<text class="b" x="483" y="2330" textLength="381" lengthAdjust="spacingAndGlyphs">கிடைத்து வருகின்றன. குறிப்பாகச் சொல்ல</text>
<text class="b" x="483" y="2354" textLength="381" lengthAdjust="spacingAndGlyphs">வேண்டுமென்றால், மக்களைத் தேடி மருத்</text>
<text class="b" x="483" y="2378" textLength="381" lengthAdjust="spacingAndGlyphs">துவம் திட்டத்தை, சிறப்பாக செயல்படுத்</text>
<text class="b" x="483" y="2401" textLength="381" lengthAdjust="spacingAndGlyphs">தியதற்காக, ஐ.நா. சபையின், `டாஸ்க்</text>
<text class="b" x="483" y="2425" textLength="381" lengthAdjust="spacingAndGlyphs">போர்ஸ் விருது', இன்றைக்கு தமிழ்நாடு</text>
<text class="b" x="483" y="2448" textLength="381" lengthAdjust="spacingAndGlyphs">அரசு பெற்றிருக்கிறது. அதற்காக, அந்தத்</text>

<!-- BODY COL3 -->
<text class="b" x="882" y="2256" textLength="380" lengthAdjust="spacingAndGlyphs">துறைக்கு நமது பாராட்டுகள் வாழ்த்துகள்.</text>
<text class="b" x="906" y="2282" textLength="356" lengthAdjust="spacingAndGlyphs">சுகாதாரத் துறையிலும் தமிழ்நாடு இன்</text>
<text class="b" x="882" y="2305" textLength="380" lengthAdjust="spacingAndGlyphs">றைக்கு இந்தியாவுக்கே வழிகாட்டிக்</text>
<text class="b" x="882" y="2328" textLength="380" lengthAdjust="spacingAndGlyphs">கொண்டிருக்கிறது என்று சொன்னால் அது</text>
<text class="b" x="882" y="2352" textLength="380" lengthAdjust="spacingAndGlyphs">மிகையல்ல. உடல் உறுப்பு தானத்தில் சிறப்</text>
<text class="b" x="882" y="2376" textLength="380" lengthAdjust="spacingAndGlyphs">பாகச் செயல்பட்டதற்காக இந்தியாவி</text>
<text class="b" x="882" y="2400" textLength="380" lengthAdjust="spacingAndGlyphs">லேயே சிறந்த மாநிலத்திற்கான, தேசிய</text>
<text class="b" x="882" y="2424" textLength="380" lengthAdjust="spacingAndGlyphs">விருதும் சமீபத்தில், நம் தமிழ்நாட்டிற்கு</text>
<text class="b" x="882" y="2447" textLength="380" lengthAdjust="spacingAndGlyphs">வழங்கப்பட்டிருக்கிறது. அதேபோல், 'இன்</text>

<!-- BODY COL4 -->
<text class="b" x="1340" y="1780" textLength="322" lengthAdjust="spacingAndGlyphs">னுயிர் காப்போம், நம்மை காக்கும்</text>
<text class="b" x="1340" y="1803" textLength="322" lengthAdjust="spacingAndGlyphs">48' எனும் மகத்தான திட்டத்தில்,</text>
<text class="b" x="1340" y="1826" textLength="322" lengthAdjust="spacingAndGlyphs">சாலை விபத்தில் சிக்கிய, நான்கு லட்</text>
<text class="b" x="1340" y="1849" textLength="322" lengthAdjust="spacingAndGlyphs">சத்திற்கும் அதிகமான பொது மக்க</text>
<text class="b" x="1340" y="1873" textLength="322" lengthAdjust="spacingAndGlyphs">ளின் உயிரை, நம் முதலமைச்சர்</text>
<text class="b" x="1340" y="1897" textLength="322" lengthAdjust="spacingAndGlyphs">அவர்களும், நமது அரசும் காப்பாற்றி</text>
<text class="b" x="1340" y="1921" textLength="106" lengthAdjust="spacingAndGlyphs">இருக்கிறது.</text>
<text class="bh" x="1387" y="1947" textLength="255" lengthAdjust="spacingAndGlyphs">2 லட்சத்து 60 ஆயிரம் மக்கள்</text>
<text class="b" x="1364" y="1975" textLength="298" lengthAdjust="spacingAndGlyphs">தமிழ்நாட்டு மக்களின் நலனைப்</text>
<text class="b" x="1340" y="1998" textLength="322" lengthAdjust="spacingAndGlyphs">பாதுகாக்கின்ற வகையில், 'நலம் காக்</text>
<text class="b" x="1340" y="2022" textLength="322" lengthAdjust="spacingAndGlyphs">கும் ஸ்டாலின்' என்ற திட்டத்தை,</text>
<text class="b" x="1340" y="2046" textLength="28" lengthAdjust="spacingAndGlyphs">நம்</text><text class="b" x="1415" y="2046" textLength="116" lengthAdjust="spacingAndGlyphs">முதலமைச்சர்</text><text class="b" x="1592" y="2046" textLength="70" lengthAdjust="spacingAndGlyphs">அவர்கள்</text>
<text class="b" x="1340" y="2070" textLength="322" lengthAdjust="spacingAndGlyphs">தொடங்கி வைத்தார். இந்தத் திட்</text>
<text class="b" x="1340" y="2093" textLength="322" lengthAdjust="spacingAndGlyphs">டத்தின் கீழ் 1,250 முகாம்கள் நடத்</text>
<text class="b" x="1340" y="2117" textLength="322" lengthAdjust="spacingAndGlyphs">தப்பட்டு இருக்கின்றன. முதற்கட்ட</text>
<text class="b" x="1340" y="2140" textLength="322" lengthAdjust="spacingAndGlyphs">மாக நடத்தப்பட்ட 185 முகாம்களில்,</text>
<text class="b" x="1340" y="2164" textLength="322" lengthAdjust="spacingAndGlyphs">2 லட்சத்து 60 ஆயிரம் மக்கள் பயன்</text>
<text class="b" x="1340" y="2187" textLength="215" lengthAdjust="spacingAndGlyphs">பெற்று இருக்கிறார்கள்.</text>
<text class="b" x="1368" y="2214" textLength="294" lengthAdjust="spacingAndGlyphs">முந்தைய ஆட்சியாளர்களால் கைவி</text>
<text class="b" x="1340" y="2238" textLength="62" lengthAdjust="spacingAndGlyphs">டப்பட்ட</text><text class="b" x="1449" y="2238" textLength="55" lengthAdjust="spacingAndGlyphs">'நலம்</text><text class="b" x="1538" y="2238" textLength="88" lengthAdjust="spacingAndGlyphs">காப்போம்'</text><text class="b" x="1643" y="2238" textLength="19" lengthAdjust="spacingAndGlyphs">திட்</text>
<text class="b" x="1283" y="2262" textLength="379" lengthAdjust="spacingAndGlyphs">டத்தை, மீண்டும் நமது அரசு செயல்படுத்</text>
<text class="b" x="1283" y="2286" textLength="379" lengthAdjust="spacingAndGlyphs">தியது. கடந்த ஆண்டு மட்டும் இந்த</text>
<text class="b" x="1283" y="2309" textLength="379" lengthAdjust="spacingAndGlyphs">முகாம்களில் கிட்டத்தட்ட 12 லட்சம் பேர்</text>
<text class="b" x="1283" y="2333" textLength="379" lengthAdjust="spacingAndGlyphs">பயன்பெற்று இருக்கிறார்கள் என்றால், அது</text>
<text class="b" x="1283" y="2357" textLength="379" lengthAdjust="spacingAndGlyphs">இந்தத் துறையின் சாதனை. ஆகவே மருத்</text>
<text class="b" x="1283" y="2380" textLength="379" lengthAdjust="spacingAndGlyphs">துவத் துறையில் இன்றைக்கு மட்டுமல்ல,</text>
<text class="b" x="1283" y="2404" textLength="379" lengthAdjust="spacingAndGlyphs">என்றைக்கும் தமிழ்நாடுதான் நம்பர் 1 என்</text>
<text class="b" x="1283" y="2428" textLength="379" lengthAdjust="spacingAndGlyphs">பதை நிரூபிக்கின்ற வகையில், நமது அரசு</text>
<text class="b" x="1283" y="2451" textLength="379" lengthAdjust="spacingAndGlyphs">செயல்பட்டுக் கொண்டிருக்கிறது. நமது</text>

<!-- BODY COL5 -->
<text class="b" x="1681" y="1593" textLength="380" lengthAdjust="spacingAndGlyphs">திராவிட மாடல் அரசு அமைந்தது முதல்</text>
<text class="b" x="1681" y="1616" textLength="380" lengthAdjust="spacingAndGlyphs">சிறப்பாகப் பணியாற்றிக் கொண்டிருக்கக்</text>
<text class="b" x="1681" y="1640" textLength="58" lengthAdjust="spacingAndGlyphs">கூடிய,</text><text class="b" x="1766" y="1640" textLength="95" lengthAdjust="spacingAndGlyphs">அண்ணன்</text><text class="b" x="1885" y="1640" textLength="176" lengthAdjust="spacingAndGlyphs">மா.சுப்பிரமணியன்</text>
<text class="b" x="1681" y="1663" textLength="380" lengthAdjust="spacingAndGlyphs">அவர்கள் உட்பட, மருத்துவம் மற்றும் சுகா</text>
<text class="b" x="1681" y="1687" textLength="380" lengthAdjust="spacingAndGlyphs">தாரத்துறை அதிகாரிகள் அனைவருக்கும்,</text>
<text class="b" x="1681" y="1710" textLength="380" lengthAdjust="spacingAndGlyphs">எனது பாராட்டுகளையும் வாழ்த்துகளை</text>
<text class="b" x="1681" y="1734" textLength="238" lengthAdjust="spacingAndGlyphs">யும் தெரிவித்துக் கொள்கிறேன்.</text>
<text class="bh" x="1791" y="1761" textLength="181" lengthAdjust="spacingAndGlyphs">மக்கள் கடும் எதிர்ப்பு</text>
<text class="b" x="1705" y="1789" textLength="356" lengthAdjust="spacingAndGlyphs">இது அரசு நிகழ்ச்சி எனவே அதிகமாக</text>
<text class="b" x="1681" y="1813" textLength="380" lengthAdjust="spacingAndGlyphs">அரசியல் பேச விரும்பவில்லை. அண்ணன்</text>
<text class="b" x="1681" y="1837" textLength="380" lengthAdjust="spacingAndGlyphs">மா.சுப்பிரமணியன் அவர்கள் பேசும்பொ</text>
<text class="b" x="1681" y="1861" textLength="380" lengthAdjust="spacingAndGlyphs">ழுது, எதிர்க்கட்சித் தலைவரின் குற்றச்சாட்டு</text>
<text class="b" x="1681" y="1885" textLength="380" lengthAdjust="spacingAndGlyphs">களுக்கு எல்லாம், தெளிவாக பதில் கூறி</text>
<text class="b" x="1681" y="1909" textLength="380" lengthAdjust="spacingAndGlyphs">னார். எதிர்க்கட்சித் தலைவரின் சுற்றுப்</text>
<text class="b" x="1681" y="1933" textLength="380" lengthAdjust="spacingAndGlyphs">பயணத்தில், பத்து நாட்களுக்கு முன்பு</text>
<text class="b" x="1681" y="1957" textLength="380" lengthAdjust="spacingAndGlyphs">என்ன நடந்தது என்பதை, நீங்களே பார்த்து</text>
<text class="b" x="1681" y="1981" textLength="380" lengthAdjust="spacingAndGlyphs">இருப்பீர்கள். வாகனத்தில் நின்றவாறு,</text>
<text class="b" x="1681" y="2005" textLength="51" lengthAdjust="spacingAndGlyphs">அவர்</text><text class="b" x="1769" y="2005" textLength="34" lengthAdjust="spacingAndGlyphs">நின்று</text><text class="b" x="1827" y="2005" textLength="58" lengthAdjust="spacingAndGlyphs">பேசிக்</text><text class="b" x="1909" y="2005" textLength="152" lengthAdjust="spacingAndGlyphs">கொண்டிருக்கும்</text>
<text class="b" x="1681" y="2028" textLength="380" lengthAdjust="spacingAndGlyphs">பொழுது, அங்கு வந்த ஆம்புலன்ஸ் வண்</text>
<text class="b" x="1681" y="2052" textLength="380" lengthAdjust="spacingAndGlyphs">டியை, நுழையவிடாமல், அதற்கு என்ன</text>
<text class="b" x="1681" y="2076" textLength="380" lengthAdjust="spacingAndGlyphs">வெல்லாம் தடங்கல்கள் செய்ய முடியுமோ,</text>
<text class="b" x="1681" y="2099" textLength="380" lengthAdjust="spacingAndGlyphs">அதைத் தொடர்ந்து செய்து கொண்டிருந்</text>
<text class="b" x="1681" y="2123" textLength="380" lengthAdjust="spacingAndGlyphs">தார். அதற்கு பொதுமக்கள் மத்தியில் கடும்</text>
<text class="b" x="1681" y="2147" textLength="262" lengthAdjust="spacingAndGlyphs">எதிர்ப்பு தெரிவிக்கப்பட்டது.</text>
<text class="b" x="1705" y="2174" textLength="356" lengthAdjust="spacingAndGlyphs">எதிர்க்கட்சித் தலைவர் அவர்களுக்குத்</text>
<text class="b" x="1681" y="2198" textLength="380" lengthAdjust="spacingAndGlyphs">தெரிவித்துக் கொள்வது, நீங்கள் இன்றைக்கு</text>
<text class="b" x="1681" y="2222" textLength="380" lengthAdjust="spacingAndGlyphs">ஆம்புலன்ஸ் வண்டிகளை எல்லாம் நிறுத்த</text>
<text class="b" x="1681" y="2245" textLength="380" lengthAdjust="spacingAndGlyphs">முயற்சி செய்து கொண்டுள்ளீர்கள். ஆனால்,</text>
<text class="b" x="1681" y="2269" textLength="380" lengthAdjust="spacingAndGlyphs">உங்களுக்கு ஒன்று புரியவில்லை. உங்களின்</text>
<text class="b" x="1681" y="2293" textLength="380" lengthAdjust="spacingAndGlyphs">கட்சியே விரைவில் ஆம்புலன்ஸ்வண்டியில்</text>
<text class="b" x="1681" y="2316" textLength="380" lengthAdjust="spacingAndGlyphs">செல்லக்கூடிய நிலைமையை, தமிழ்நாட்டு</text>
<text class="b" x="1681" y="2340" textLength="380" lengthAdjust="spacingAndGlyphs">மக்கள் ஏற்படுத்துவார்கள். விரைவில் ஐ.சி.</text>
<text class="b" x="1681" y="2364" textLength="380" lengthAdjust="spacingAndGlyphs">யூ.வில்தான் உங்களின் இயக்கம் அனுமதிக்</text>
<text class="b" x="1681" y="2388" textLength="380" lengthAdjust="spacingAndGlyphs">கப்படும். உங்களையும் காப்பாற்றுகின்ற</text>
<text class="b" x="1681" y="2412" textLength="380" lengthAdjust="spacingAndGlyphs">பொறுப்பை, நம் முதலமைச்சர் அவர்கள்</text>
<text class="b" x="1681" y="2435" textLength="82" lengthAdjust="spacingAndGlyphs">செய்வார்</text><text class="b" x="1797" y="2435" textLength="112" lengthAdjust="spacingAndGlyphs">என்பதையும்</text><text class="b" x="1946" y="2435" textLength="52" lengthAdjust="spacingAndGlyphs">இங்கே</text><text class="b" x="2021" y="2435" textLength="40" lengthAdjust="spacingAndGlyphs">நான்</text>
<text class="b" x="1681" y="2459" textLength="276" lengthAdjust="spacingAndGlyphs">கூறிக்கொள்ள விரும்புகிறேன்.</text>
<text class="b" x="1705" y="2484" textLength="356" lengthAdjust="spacingAndGlyphs">இந்த மருத்துவமனையில் பணியாற்ற</text>
<text class="b" x="1681" y="2508" textLength="380" lengthAdjust="spacingAndGlyphs">உள்ள மருத்துவர்கள், செவிலியர்கள் மற்</text>
<text class="b" x="1681" y="2532" textLength="380" lengthAdjust="spacingAndGlyphs">றும் பணியாளர்கள் அத்தனை பேருக்கும்</text>
<text class="b" x="1681" y="2556" textLength="380" lengthAdjust="spacingAndGlyphs">எனது நன்றிகளையும், பாராட்டுகளையும்,</text>
<text class="b" x="1681" y="2580" textLength="380" lengthAdjust="spacingAndGlyphs">வாழ்த்துகளையும் தெரிவித்துக் கொண்டு,</text>
<text class="b" x="1681" y="2603" textLength="380" lengthAdjust="spacingAndGlyphs">இந்த மருத்துவமனையைப் பயன்படுத்தி,</text>
<text class="b" x="1681" y="2626" textLength="380" lengthAdjust="spacingAndGlyphs">நோயற்ற வாழ்வை அமைத்துக் கொள்ளு</text>
<text class="b" x="1681" y="2649" textLength="380" lengthAdjust="spacingAndGlyphs">மாறு உங்களிடம் கேட்டுக் கொண்டு, இந்த</text>
<text class="b" x="1681" y="2672" textLength="380" lengthAdjust="spacingAndGlyphs">வாய்ப்பை அளித்த அண்ணன் மா.சுப்பிர</text>
<text class="b" x="1681" y="2695" textLength="380" lengthAdjust="spacingAndGlyphs">மணியன் அவர்களுக்கும், துறை அதிகாரி</text>
<text class="b" x="1681" y="2718" textLength="380" lengthAdjust="spacingAndGlyphs">கள் அத்தனை பேருக்கும் மீண்டும் எனது</text>
<text class="b" x="1681" y="2741" textLength="380" lengthAdjust="spacingAndGlyphs">நன்றியைத் தெரிவித்து விடைபெறுகிறேன்.</text>
<text class="b" x="1705" y="2764" textLength="85" lengthAdjust="spacingAndGlyphs">இவ்வாறு</text><text class="b" x="1827" y="2764" textLength="68" lengthAdjust="spacingAndGlyphs">துணை</text><text class="b" x="1940" y="2764" textLength="121" lengthAdjust="spacingAndGlyphs">முதலமைச்சர்</text>
<text class="b" x="1681" y="2787" textLength="344" lengthAdjust="spacingAndGlyphs">உதயநிதி ஸ்டாலின் உரையாற்றினார்.</text>
<text class="bh" x="1812" y="2814" textLength="141" lengthAdjust="spacingAndGlyphs">பங்கேற்றவர்கள்</text>
<text class="b" x="1705" y="2841" textLength="51" lengthAdjust="spacingAndGlyphs">இதில்</text><text class="b" x="1786" y="2841" textLength="123" lengthAdjust="spacingAndGlyphs">அமைச்சர்கள்</text><text class="b" x="1936" y="2841" textLength="125" lengthAdjust="spacingAndGlyphs">கே.என்.நேரு,</text>
<text class="b" x="1681" y="2864" textLength="380" lengthAdjust="spacingAndGlyphs">மா.சுப்பிரமணியன், சட்டமன்ற உறுப்பி</text>
<text class="b" x="1681" y="2887" textLength="380" lengthAdjust="spacingAndGlyphs">னர்கள் தாயகம் கவி, அரவிந்த் ரமேஷ்,</text>
<text class="b" x="1681" y="2911" textLength="380" lengthAdjust="spacingAndGlyphs">காரப்பாக்கம் கணபதி, பிரபாகர் ராஜா,</text>
<text class="b" x="1681" y="2935" textLength="75" lengthAdjust="spacingAndGlyphs">சென்னை</text><text class="b" x="1783" y="2935" textLength="126" lengthAdjust="spacingAndGlyphs">மாநகராட்சி</text><text class="b" x="1936" y="2935" textLength="51" lengthAdjust="spacingAndGlyphs">துணை</text><text class="b" x="2018" y="2935" textLength="43" lengthAdjust="spacingAndGlyphs">மேயர்</text>
<text class="b" x="1681" y="2958" textLength="380" lengthAdjust="spacingAndGlyphs">மகேஷ்குமார், துறையின் அரசு செயலாளர்</text>
<text class="b" x="1681" y="2982" textLength="380" lengthAdjust="spacingAndGlyphs">செந்தில்குமார் ஐ.ஏ.எஸ்., தேசிய நலவாழ்வு</text>
<text class="b" x="1681" y="3006" textLength="380" lengthAdjust="spacingAndGlyphs">குழுமத்தின் உறுப்பினர் மருத்துவர் அருண்</text>
<text class="b" x="1681" y="3030" textLength="380" lengthAdjust="spacingAndGlyphs">தம்புராஜ் ஐ.ஏ.எஸ்., சென்னை மாநகராட்</text>
<text class="b" x="1681" y="3053" textLength="380" lengthAdjust="spacingAndGlyphs">சியின் மண்டல குழுத் தலைவர்கள் கிருஷ்</text>
<text class="b" x="1681" y="3077" textLength="380" lengthAdjust="spacingAndGlyphs">ணமூர்த்தி, துரைராஜன், நொலம்பூர் ராஜா,</text>
<text class="b" x="1681" y="3100" textLength="380" lengthAdjust="spacingAndGlyphs">மருத்துவ மற்றும் ஊரக நலப் பணிகளின்</text>
<text class="b" x="1681" y="3124" textLength="380" lengthAdjust="spacingAndGlyphs">இயக்குநர் மருத்துவர் சித்ரா, சங்கர்</text>
<text class="b" x="1681" y="3147" textLength="380" lengthAdjust="spacingAndGlyphs">கணேஷ், செஞ்சி சிவா மற்றும் அரசு</text>
<text class="b" x="1681" y="3170" textLength="380" lengthAdjust="spacingAndGlyphs">அதிகாரிகள், அலுவலர்கள், டாக்டர்கள்,</text>
<text class="b" x="1681" y="3194" textLength="380" lengthAdjust="spacingAndGlyphs">செவிலியர்கள் உள்பட பலரும் கலந்து</text>
<text class="b" x="1681" y="3217" textLength="126" lengthAdjust="spacingAndGlyphs">கொண்டனர்.</text>

<!-- CAPTION -->
<text class="c" x="494" y="3035" textLength="1146" lengthAdjust="spacingAndGlyphs">துணை முதலமைச்சர் உதயநிதி ஸ்டாலின் அவர்கள் நேற்று முன்தினம் (8.9.2025) சென்னை சைதாப்பேட்டையில் மருத்துவம் மற்றும் மக்கள்</text>
<text class="c" x="494" y="3063" textLength="1146" lengthAdjust="spacingAndGlyphs">நல்வாழ்வுத் துறை சார்பில் 28.75 கோடி ரூபாய் மதிப்பீட்டில் கட்டப்பட்டுள்ள சைதாப்பேட்டை அரசு மருத்துவமனை கட்டடத்தை திறந்து வைத்தார்.</text>
<text class="c" x="494" y="3092" textLength="1146" lengthAdjust="spacingAndGlyphs">இந்நிகழ்வில், நகராட்சி நிர்வாகத்துறை அமைச்சர் கே.என்.நேரு, மருத்துவம் மற்றும் மக்கள் நல்வாழ்வுத் துறை அமைச்சர் மா.சுப்பிரமணியன்,</text>
<text class="c" x="494" y="3120" textLength="1146" lengthAdjust="spacingAndGlyphs">சட்டமன்ற உறுப்பினர்கள் தாயகம் கவி, எஸ்.அரவிந்த் ரமேஷ், க.கணபதி, ஏ.எம்.வி.பிரபாகரராஜா, துணை மேயர் மு.மகேஷ் குமார், மண்டல குழுத்</text>
<text class="c" x="494" y="3147" textLength="1146" lengthAdjust="spacingAndGlyphs">தலைவர்கள் எம்.கிருஷ்ணமூர்த்தி, ஆர்.துரைராஜ், மருத்துவம் மற்றும் மக்கள் நல்வாழ்வுத் துறை முதன்மைச் செயலாளர் முனைவர் ப.செந்தில்குமார்,</text>
<text class="c" x="494" y="3175" textLength="1146" lengthAdjust="spacingAndGlyphs">தேசிய நலவாழ்வுக் குழும இயக்குநர் அருண் தம்புராஜ், தமிழ்நாடு சுகாதார திட்ட இயக்குநர் மரு.வி.வினித், மருத்துவம் மற்றும் ஊரக நலப் பணிகள்</text>
<text class="c" x="494" y="3204" textLength="577" lengthAdjust="spacingAndGlyphs">இயக்குநர் மரு.சித்ரா மற்றும் அரசு உயர் அலுவலர்கள் கலந்து கொண்டனர்.</text>
</svg>
</body></html>
